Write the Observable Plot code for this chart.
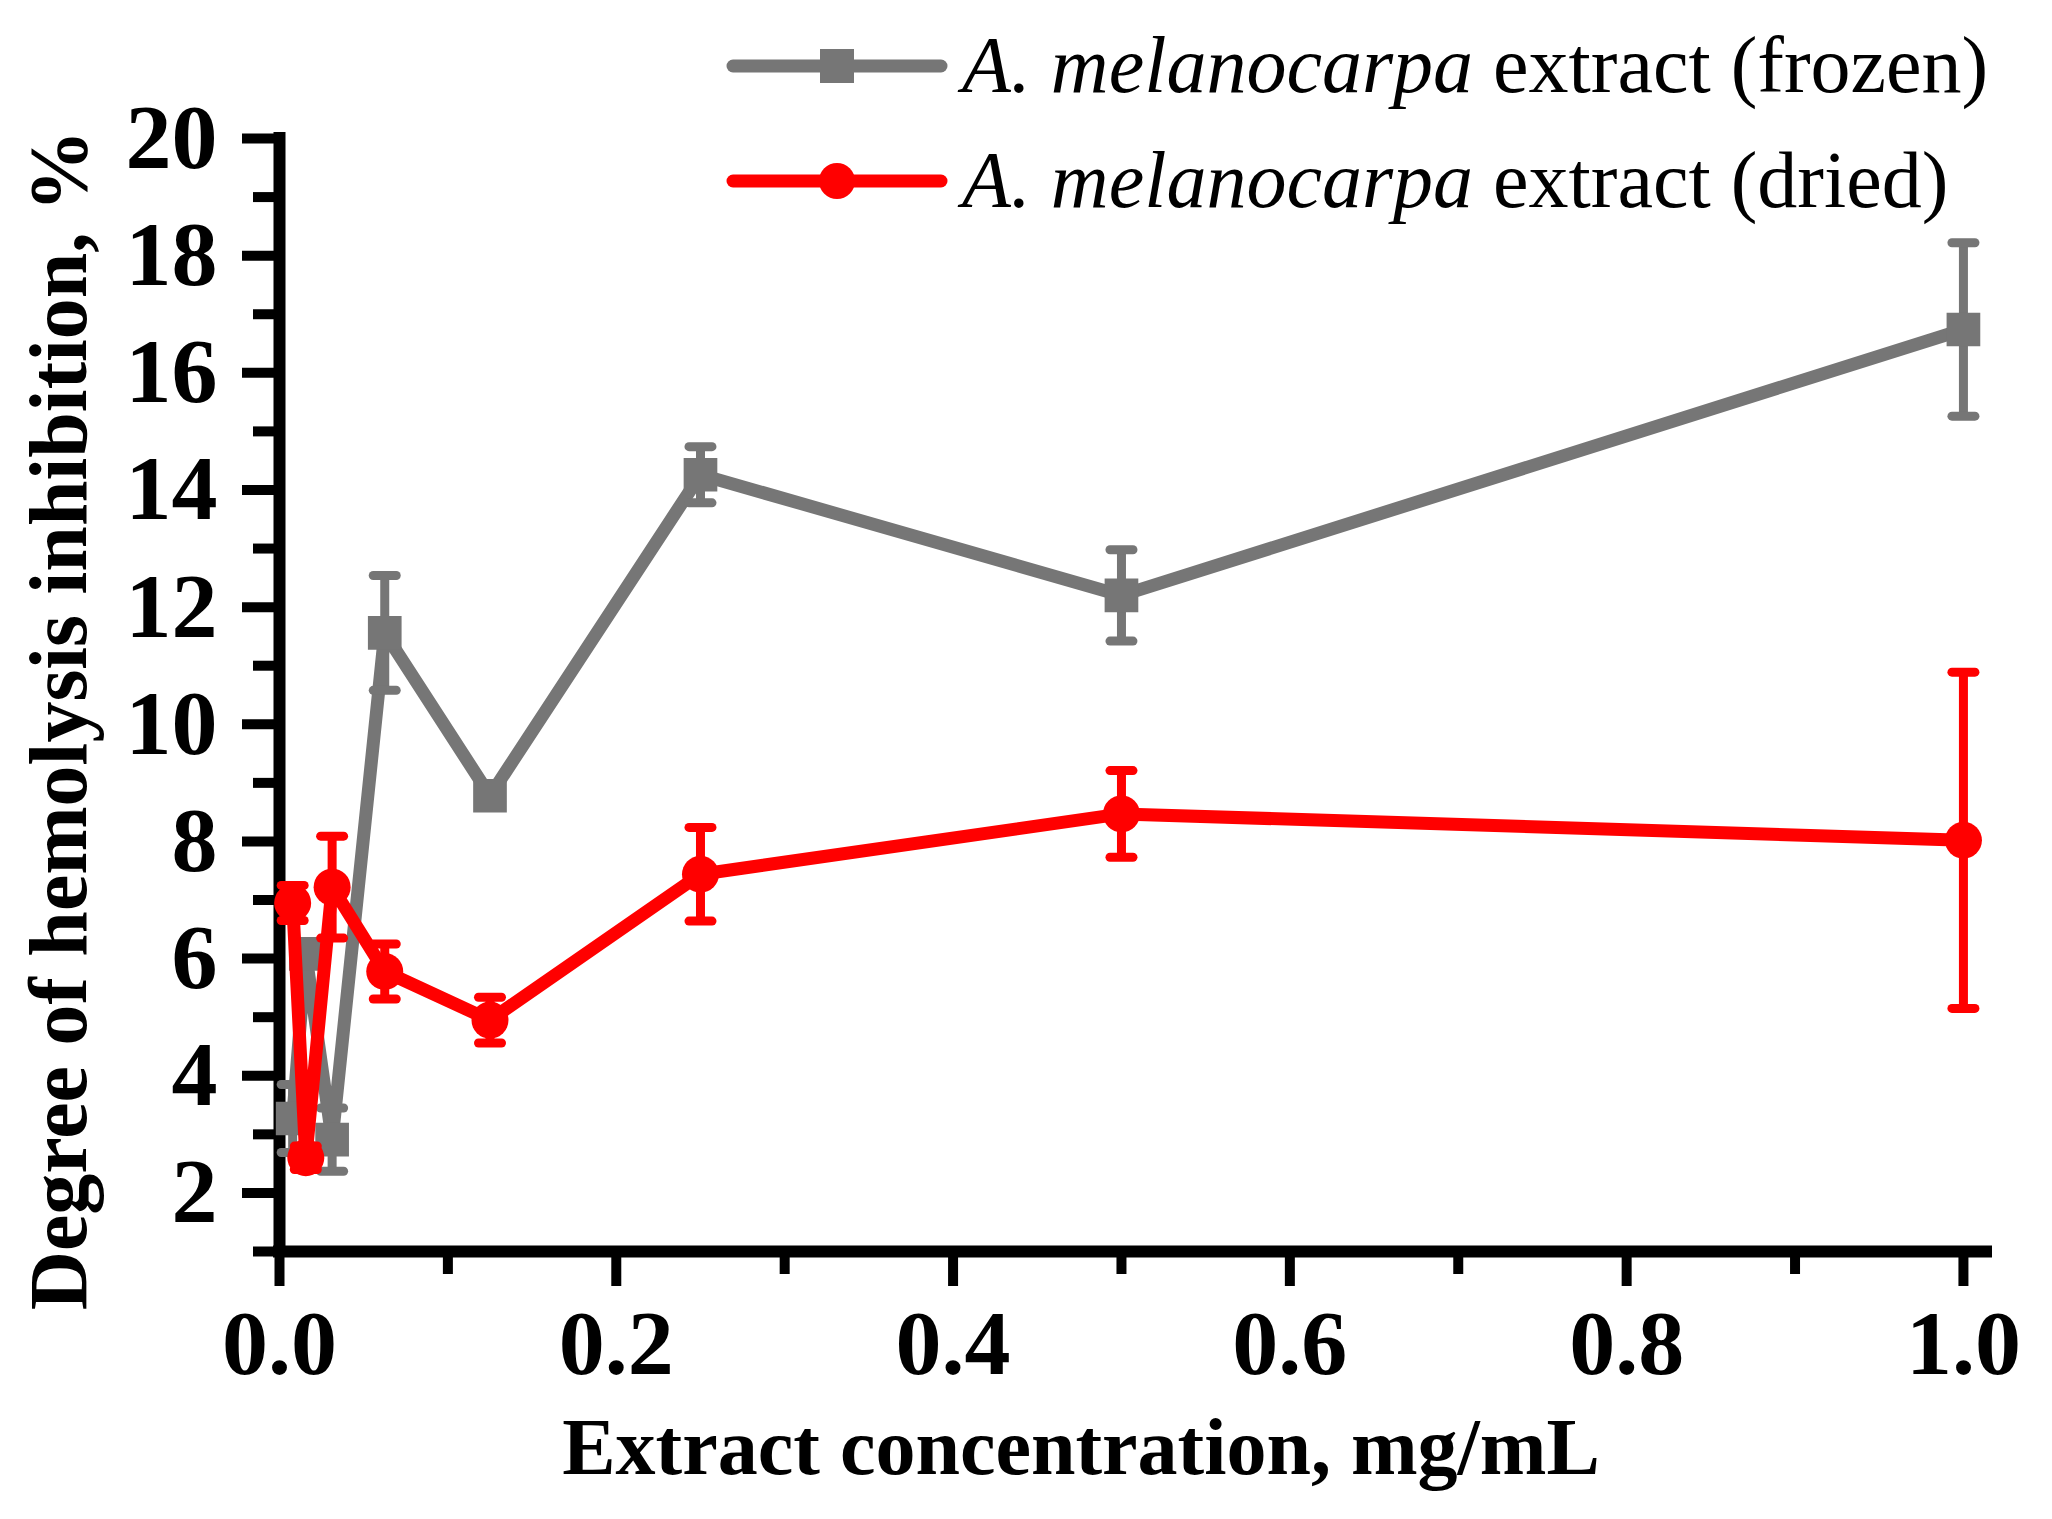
<!DOCTYPE html>
<html>
<head>
<meta charset="utf-8">
<script src="https://cdn.jsdelivr.net/npm/d3@7"></script>
<script src="https://cdn.jsdelivr.net/npm/@observablehq/plot@0.6"></script>
<style>
  body { margin: 0; background: #fff; }
  #wrap { position: relative; width: 2052px; height: 1519px; font-family: "Liberation Serif", serif; }
  #legend { position: absolute; left: 726px; top: 8px; font-size: 80px; }
  .row { display: flex; align-items: center; height: 115px; white-space: nowrap; }
  .row svg { margin-right: 14px; }
</style>
</head>
<body>
<div id="wrap">
  <div id="chart"></div>
  <div id="legend"></div>
</div>
<script>
// extract concentration, mg/mL (twofold dilutions)
const conc = [0.0078125, 0.015625, 0.03125, 0.0625, 0.125, 0.25, 0.5, 1.0];
// degree of hemolysis inhibition, %
const frozen   = [3.27, 6.08, 2.91, 11.56, 8.78, 14.26, 12.2, 16.74];
const frozenSd = [0.58, 0.12, 0.54, 0.98, 0.1, 0.48, 0.78, 1.48];
const dried    = [6.95, 2.6, 7.22, 5.78, 4.95, 7.44, 8.47, 8.02];
const driedSd  = [0.3, 0.2, 0.87, 0.47, 0.39, 0.8, 0.74, 2.87];

const yMajor = [2, 4, 6, 8, 10, 12, 14, 16, 18, 20];
const yMinor = [1, 3, 5, 7, 9, 11, 13, 15, 17, 19];
const xMajor = [0, 0.2, 0.4, 0.6, 0.8, 1.0];
const xMinor = [0.1, 0.3, 0.5, 0.7, 0.9];

const GRAY = "#767676";
const RED = "#ff0000";

const rows = (vals, sds) => conc.map((c, i) => ({x: c, y: vals[i], lo: vals[i] - sds[i], hi: vals[i] + sds[i]}));
const frozenRows = rows(frozen, frozenSd);
const driedRows = rows(dried, driedSd);

// flat error-bar cap as a dot symbol
const cap = {
  draw(ctx, size) {
    const w = Math.sqrt(size / Math.PI);
    ctx.moveTo(-w, 0);
    ctx.lineTo(w, 0);
  }
};

function series(data, color, symbol, r) {
  return [
    Plot.line(data, {x: "x", y: "y", stroke: color, strokeWidth: 13}),
    Plot.ruleX(data, {x: "x", y1: "lo", y2: "hi", stroke: color, strokeWidth: 9}),
    Plot.dot(data, {x: "x", y: "hi", symbol: cap, r: 11.5, stroke: color, strokeWidth: 9, strokeLinecap: "round", fill: "none"}),
    Plot.dot(data, {x: "x", y: "lo", symbol: cap, r: 11.5, stroke: color, strokeWidth: 9, strokeLinecap: "round", fill: "none"}),
    Plot.dot(data, {x: "x", y: "y", symbol, r, fill: color, stroke: "none"})
  ];
}

const chart = Plot.plot({
  width: 2052,
  height: 1519,
  marginLeft: 279,
  marginRight: 66,
  marginTop: 138,
  marginBottom: 268,
  style: {fontFamily: "'Liberation Serif', serif", background: "white", color: "black"},
  x: {domain: [0, 1.0137]},
  y: {domain: [1, 20]},
  marks: [
    Plot.axisX({ticks: xMajor, tickSize: 35, strokeWidth: 10, tickPadding: 22, fontSize: 92, fontWeight: "bold",
      tickFormat: d3.format(".1f"), label: null}),
    Plot.axisX({ticks: xMinor, tickSize: 23, strokeWidth: 10, tickFormat: () => "", label: null}),
    Plot.axisY({ticks: yMajor, tickSize: 37, strokeWidth: 10, tickPadding: 25, fontSize: 92, fontWeight: "bold", label: null}),
    Plot.axisY({ticks: yMinor, tickSize: 26, strokeWidth: 10, tickFormat: () => "", label: null}),
    Plot.ruleX([0], {stroke: "black", strokeWidth: 12, strokeLinecap: "square"}),
    Plot.ruleY([1], {stroke: "black", strokeWidth: 12, strokeLinecap: "square"}),
    Plot.text(["Degree of hemolysis inhibition, %"], {text: d => d, frameAnchor: "left", rotate: -90,
      textAnchor: "middle", lineAnchor: "middle", dx: -220, dy: 25, fontSize: 82, fontWeight: "bold"}),
    Plot.text(["Extract concentration, mg/mL"], {text: d => d, frameAnchor: "bottom", textAnchor: "middle",
      dx: -52, dy: 222, fontSize: 80, fontWeight: "bold", lineAnchor: "bottom"}),
    ...series(frozenRows, GRAY, "square", 19),
    ...series(driedRows, RED, "circle", 18.5)
  ]
});
document.getElementById("chart").append(chart);

// legend
const legendItems = [
  {color: GRAY, shape: "square", label: "extract (frozen)"},
  {color: RED, shape: "circle", label: "extract (dried)"}
];
const legend = d3.select("#legend");
legendItems.forEach(item => {
  const row = legend.append("div").attr("class", "row");
  const svg = row.append("svg").attr("width", 222).attr("height", 40);
  svg.append("line").attr("x1", 7).attr("x2", 215).attr("y1", 20).attr("y2", 20)
    .attr("stroke", item.color).attr("stroke-width", 13).attr("stroke-linecap", "round");
  if (item.shape === "square") {
    svg.append("rect").attr("x", 94).attr("y", 3).attr("width", 34).attr("height", 34).attr("fill", item.color);
  } else {
    svg.append("circle").attr("cx", 111).attr("cy", 20).attr("r", 18).attr("fill", item.color);
  }
  row.append("span").html(`<i>A. melanocarpa</i> ${item.label}`);
});
</script>
</body>
</html>
